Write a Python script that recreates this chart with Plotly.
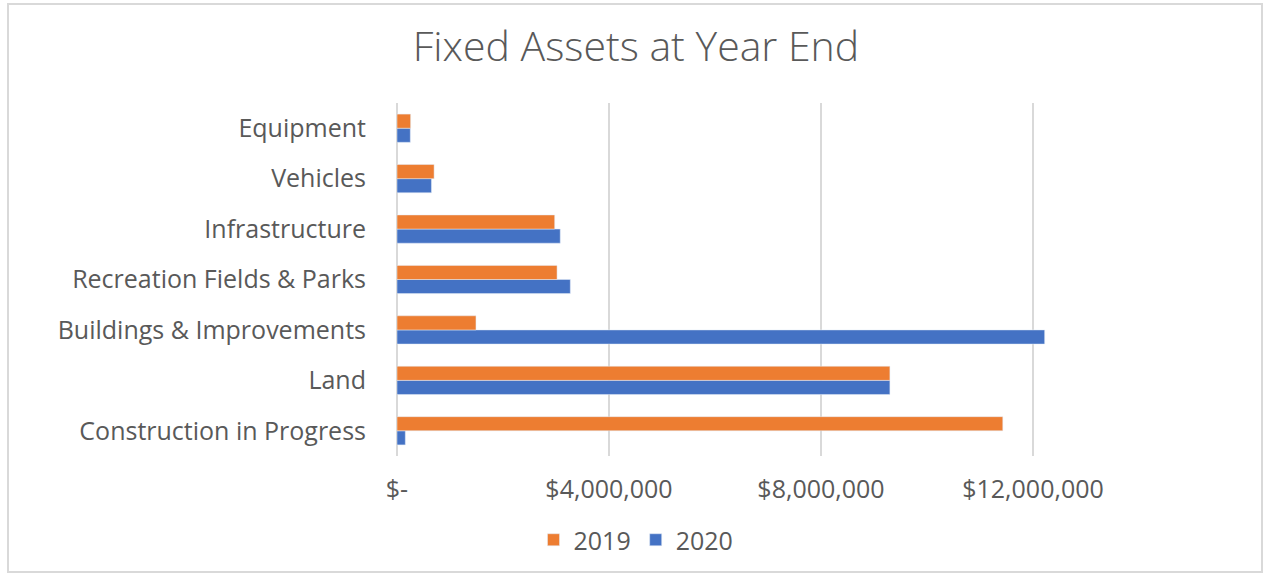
import plotly.graph_objects as go

# categories bottom to top (plotly draws the first category at the bottom)
categories = [
    "Construction in Progress",
    "Land",
    "Buildings & Improvements",
    "Recreation Fields & Parks",
    "Infrastructure",
    "Vehicles",
    "Equipment",
]
values_2019 = [11430000, 9300000, 1490000, 3020000, 2975000, 700000, 257000]
values_2020 = [157000, 9300000, 12220000, 3270000, 3080000, 650000, 251000]

tick_vals = [0, 4000000, 8000000, 12000000]
tick_text = ["$-", "$4,000,000", "$8,000,000", "$12,000,000"]

ORANGE = "#ED7D31"
BLUE = "#4472C4"
GREY_TEXT = "#595959"
GRID = "#D9D9D9"

fig = go.Figure()
# 2020 first so it sits at the bottom of each pair
fig.add_trace(go.Bar(y=categories, x=values_2020, name="2020", orientation="h",
                     marker_color=BLUE))
fig.add_trace(go.Bar(y=categories, x=values_2019, name="2019", orientation="h",
                     marker_color=ORANGE))

fig.update_layout(
    width=1265, height=575,
    margin=dict(l=397, r=126, t=103, b=119),
    paper_bgcolor="white", plot_bgcolor="white",
    barmode="group", bargap=0.44, bargroupgap=0,
    title=dict(text="Fixed Assets at Year End", x=636 / 1265, xref="container",
               xanchor="center", y=1 - 47 / 575, yanchor="middle",
               font=dict(family="Open Sans", size=41, color=GREY_TEXT, weight=300)),
    font=dict(family="Open Sans", size=24, color=GREY_TEXT),
    legend=dict(orientation="h", traceorder="reversed",
                x=(636 - 397) / 742, xanchor="center",
                y=(456 - 540) / 353, yanchor="middle",
                font=dict(size=25, color=GREY_TEXT),
                itemwidth=30, tracegroupgap=0),
    showlegend=True,
)

fig.update_xaxes(range=[0, 14000000], tickvals=tick_vals, ticktext=tick_text,
                 showgrid=True, gridcolor=GRID, gridwidth=2,
                 zeroline=True, zerolinecolor=GRID, zerolinewidth=2,
                 showline=False, ticks="", ticklabelstandoff=16,
                 tickfont=dict(size=25, color=GREY_TEXT))
fig.update_yaxes(showgrid=False, zeroline=False, showline=False, ticks="",
                 ticklabelstandoff=30, tickfont=dict(size=25, color=GREY_TEXT))

# light outer border of the chart area
fig.add_shape(type="rect", xref="paper", yref="paper",
              x0=(8 - 397) / 742, x1=(1262 - 397) / 742,
              y0=(456 - 572) / 353, y1=(456 - 4) / 353,
              line=dict(color=GRID, width=2), fillcolor="rgba(0,0,0,0)", layer="below")

# drop the page's default body margin so the figure sits at the window corner
fig.write_html("out.html", config={"displayModeBar": False},
               post_script="document.body.style.margin='0';")
